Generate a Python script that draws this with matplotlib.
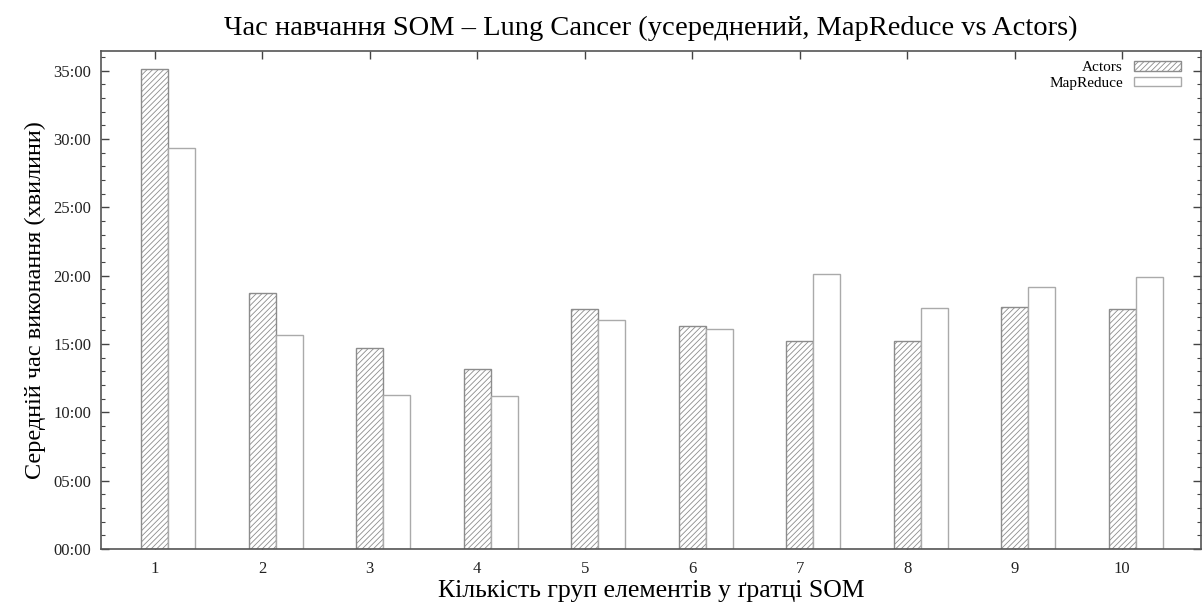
import numpy as np
import matplotlib
matplotlib.use('Agg')
import matplotlib.pyplot as plt
from matplotlib.ticker import MultipleLocator, FuncFormatter

# %% data (average time, minutes)
groups = [1, 2, 3, 4, 5, 6, 7, 8, 9, 10]
actors = [35.10, 18.75, 14.68, 13.15, 17.54, 16.32, 15.24, 15.24, 17.73, 17.54]
mapreduce = [29.32, 15.63, 11.24, 11.19, 16.73, 16.10, 20.15, 17.61, 19.19, 19.93]

title = 'Час навчання SOM – Lung Cancer (усереднений, MapReduce vs Actors)'
xlabel = 'Кількість груп елементів у ґратці SOM'
ylabel = 'Середній час виконання (хвилини)'

plt.rcParams['font.family'] = ['Liberation Serif', 'DejaVu Serif']
plt.rcParams['hatch.linewidth'] = 0.6

# %% plot
fig = plt.figure(figsize=(12.02, 6.05), dpi=100)
ax = fig.add_axes([0.084, 0.0926, 0.9149, 0.8239])
ax.set_axisbelow(True)

x = np.array(groups)
w = 0.25
ax.bar(x, actors, width=w, color='white', edgecolor='#8c8c8c', hatch='//////',
       linewidth=1.0, label='Actors')
ax.bar(x + w, mapreduce, width=w, color='white', edgecolor='#aaaaaa',
       linewidth=1.0, label='MapReduce')

ax.set_xlim(0.5, 10.73)
ax.set_ylim(0, 36.47)
ax.set_xticks(x)
ax.set_xticklabels([str(g) for g in groups])
ax.yaxis.set_major_locator(MultipleLocator(5))
ax.yaxis.set_minor_locator(MultipleLocator(1))
ax.yaxis.set_major_formatter(FuncFormatter(lambda v, p: '%02d:00' % round(v)))

ax.tick_params(axis='both', which='both', direction='in', top=True, right=True,
               colors='#444444', labelcolor='#222222', labelsize=12)
ax.tick_params(axis='both', which='major', length=6, width=1)
ax.tick_params(axis='y', which='minor', length=3, width=0.8)
ax.tick_params(axis='x', pad=9)
ax.tick_params(axis='y', pad=7)
for s in ax.spines.values():
    s.set_color('#555555')
    s.set_linewidth(1.2)

ax.set_title(title, fontsize=20.5, pad=11)
ax.set_xlabel(xlabel, fontsize=18.5, labelpad=2)
ax.set_ylabel(ylabel, fontsize=17.5, labelpad=5)

ax.legend(loc='upper right', bbox_to_anchor=(0.982, 0.979), frameon=False,
          markerfirst=False, fontsize=11, handlelength=3.1, handleheight=0.6,
          labelspacing=0.15, handletextpad=0.7, borderaxespad=0, borderpad=0)

plt.savefig('out.png', dpi=100)
